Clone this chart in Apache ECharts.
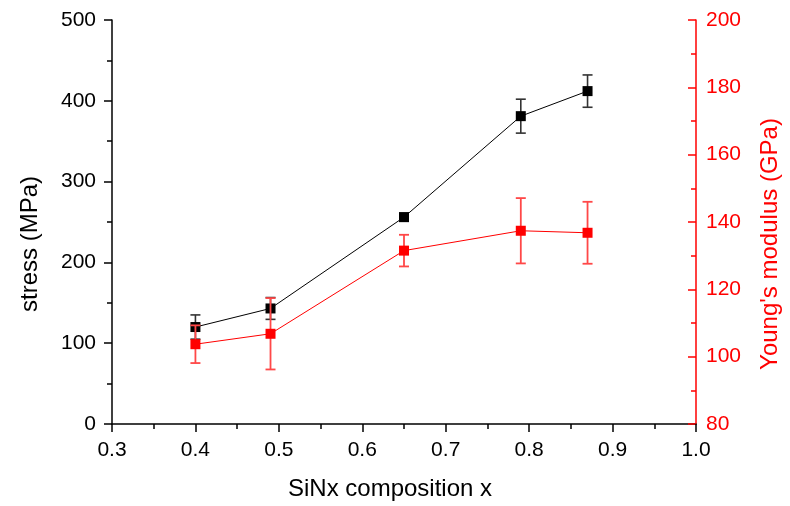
<!DOCTYPE html>
<html>
<head>
<meta charset="utf-8">
<script src="https://cdn.jsdelivr.net/npm/echarts@6/dist/echarts.min.js"></script>
<style>
  html, body { margin: 0; padding: 0; background: #fff; }
  #chart { width: 790px; height: 506px; }
</style>
</head>
<body>
<div id="chart"></div>
<script>
// SiNx films: residual stress and Young's modulus against composition x
const composition = [0.40, 0.49, 0.65, 0.79, 0.87];
const stress = [120, 143, 256, 381, 412];          // MPa
const stressErr = [15, 13.5, 5, 21, 20];            // MPa
const modulus = [103.7, 106.8, 131.5, 137.4, 136.8]; // GPa
const modulusErr = [5.6, 10.6, 4.7, 9.7, 9.2];      // GPa

const xTicks = { min: 0.3, max: 1.0, step: 0.1 };
const stressTicks = { min: 0, max: 500, step: 100 };
const modulusTicks = { min: 80, max: 200, step: 20 };

const FONT = "'Liberation Sans', Arial, sans-serif";
const RED = '#ff0000';

function pairs(xs, ys) { return xs.map((x, i) => [x, ys[i]]); }
function errRows(xs, ys, es) { return xs.map((x, i) => [x, ys[i] - es[i], ys[i] + es[i]]); }

// vertical error bar with end caps
function errorBarRenderer(color, width, cap) {
  return function (params, api) {
    const x = api.value(0);
    const lo = api.coord([x, api.value(1)]);
    const hi = api.coord([x, api.value(2)]);
    const style = { stroke: color, lineWidth: width, fill: null };
    return {
      type: 'group',
      children: [
        { type: 'line', shape: { x1: lo[0], y1: lo[1], x2: hi[0], y2: hi[1] }, style },
        { type: 'line', shape: { x1: hi[0] - cap, y1: hi[1], x2: hi[0] + cap, y2: hi[1] }, style },
        { type: 'line', shape: { x1: lo[0] - cap, y1: lo[1], x2: lo[0] + cap, y2: lo[1] }, style }
      ]
    };
  };
}

const chart = echarts.init(document.getElementById('chart'));
chart.setOption({
  animation: false,
  backgroundColor: '#fff',
  grid: { left: 112, right: 88, top: 20, bottom: 79, containLabel: false },
  xAxis: {
    type: 'value',
    min: xTicks.min, max: xTicks.max, interval: xTicks.step,
    name: 'SiNx composition x',
    nameLocation: 'middle',
    nameGap: 53,
    nameTextStyle: { fontFamily: FONT, fontSize: 24, color: '#000', padding: [0, 28, 0, 0] },
    axisLine: { show: true, lineStyle: { color: '#000', width: 1.5 } },
    axisTick: { show: true, inside: false, length: 8, lineStyle: { color: '#000', width: 1.5 } },
    minorTick: { show: true, splitNumber: 2, length: 5, lineStyle: { color: '#000', width: 1.5 } },
    axisLabel: {
      margin: 16, fontFamily: FONT, fontSize: 21, color: '#000',
      formatter: v => v.toFixed(1)
    },
    splitLine: { show: false }
  },
  yAxis: [
    {
      type: 'value',
      position: 'left',
      min: stressTicks.min, max: stressTicks.max, interval: stressTicks.step,
      name: 'stress (MPa)',
      nameLocation: 'middle',
      nameGap: 70,
      nameRotate: 90,
      nameTextStyle: { fontFamily: FONT, fontSize: 24, color: '#000', padding: [0, 44, 0, 0] },
      axisLine: { show: true, lineStyle: { color: '#000', width: 1.5 } },
      axisTick: { show: true, inside: false, length: 8, lineStyle: { color: '#000', width: 1.5 } },
      minorTick: { show: true, splitNumber: 2, length: 5, lineStyle: { color: '#000', width: 1.5 } },
      axisLabel: { margin: 16, fontFamily: FONT, fontSize: 21, color: '#000' },
      splitLine: { show: false }
    },
    {
      type: 'value',
      position: 'right',
      min: modulusTicks.min, max: modulusTicks.max, interval: modulusTicks.step,
      name: "Young's modulus (GPa)",
      nameLocation: 'middle',
      nameGap: 62,
      nameRotate: 90,
      nameTextStyle: { fontFamily: FONT, fontSize: 24, color: RED, padding: [0, 44, 0, 0] },
      axisLine: { show: true, lineStyle: { color: RED, width: 1.5 } },
      axisTick: { show: true, inside: true, length: 8, lineStyle: { color: RED, width: 1.5 } },
      minorTick: { show: true, splitNumber: 2, length: 5, lineStyle: { color: RED, width: 1.5 } },
      axisLabel: { margin: 10, fontFamily: FONT, fontSize: 21, color: RED },
      splitLine: { show: false }
    }
  ],
  series: [
    {
      name: 'stress error',
      type: 'custom',
      yAxisIndex: 0,
      renderItem: errorBarRenderer('#333', 1.6, 5),
      data: errRows(composition, stress, stressErr),
      z: 2
    },
    {
      name: 'stress',
      type: 'line',
      yAxisIndex: 0,
      data: pairs(composition, stress),
      symbol: 'rect',
      symbolSize: 10,
      lineStyle: { color: '#000', width: 1 },
      itemStyle: { color: '#000' },
      z: 3
    },
    {
      name: 'modulus error',
      type: 'custom',
      yAxisIndex: 1,
      renderItem: errorBarRenderer('#ff4848', 1.8, 5),
      data: errRows(composition, modulus, modulusErr),
      z: 4
    },
    {
      name: "Young's modulus",
      type: 'line',
      yAxisIndex: 1,
      data: pairs(composition, modulus),
      symbol: 'rect',
      symbolSize: 10,
      lineStyle: { color: RED, width: 1 },
      itemStyle: { color: RED },
      z: 5
    }
  ]
});
</script>
</body>
</html>
